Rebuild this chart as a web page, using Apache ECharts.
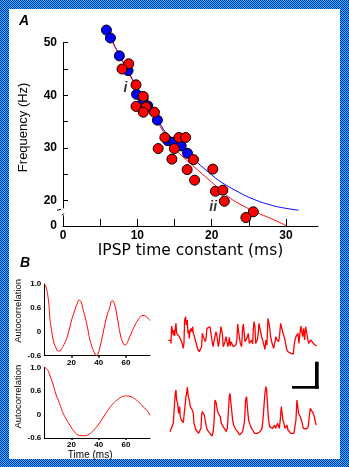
<!DOCTYPE html>
<html><head><meta charset="utf-8">
<script src="https://cdn.jsdelivr.net/npm/echarts@6/dist/echarts.min.js"></script>
<style>
html,body{margin:0;padding:0;background:#fff;}
#wrap{position:relative;width:349px;height:467px;background:repeating-conic-gradient(#00d4ff 0% 25%, #0010b0 0% 50%) 0 0/2px 2px;}
#paper{position:absolute;left:9px;top:9px;width:331px;height:450px;background:#fff;}
#chart{position:absolute;left:0;top:0;width:349px;height:467px;}
</style></head><body>
<div id="wrap"><div id="paper"></div><div id="chart"></div></div>
<script>
// ---------- Panel A data: frequency (Hz) vs IPSP time constant (ms) ----------
const blueT = [5.84, 6.38, 7.58, 8.75, 9.9, 10.76, 11.4, 12.7, 14.1, 14.9, 15.9, 16.75];
const blueF = [52.4, 50.9, 47.5, 44.7, 40.2, 39.3, 38.0, 35.3, 31.4, 31.1, 30.4, 29.0];
const redT = [8.84, 7.94, 9.82, 10.8, 9.82, 11.17, 10.8, 12.3, 13.7, 15.6, 16.5, 12.8, 14.97, 14.65, 17.55, 16.7, 20.15, 17.7, 20.5, 21.5, 21.7, 25.6, 24.6];
const redF = [46.0, 45.0, 42.0, 39.8, 37.9, 37.8, 36.8, 36.8, 32.0, 32.0, 32.0, 29.9, 29.9, 27.9, 27.8, 25.9, 26.0, 23.9, 21.8, 22.0, 19.9, 17.9, 16.8];
// fitted curves
const blueFitT = [5.8, 7, 8, 9, 10, 11, 12, 13, 14, 15, 16, 17, 18.5, 20, 21.1, 23.4, 25.6, 27.9, 29.8, 31.7];
const blueFitF = [52.4, 49.2, 46.6, 44.0, 41.4, 39.1, 36.8, 34.7, 32.6, 31.2, 29.9, 28.6, 26.7, 24.9, 23.7, 21.8, 20.3, 19.2, 18.6, 18.2];
const redFitT = [6.4, 7, 8, 9, 10, 11, 12, 13, 14, 15, 16, 18, 20, 22, 24, 26, 28, 30];
const redFitF = [51.0, 49.3, 46.5, 43.8, 41.2, 38.8, 36.5, 34.3, 32.0, 30.0, 28.5, 26.0, 23.5, 21.0, 19.2, 17.8, 16.6, 15.3];
const annoNames = ['i', 'ii'];
const annoT = [8.4, 20.2];
const annoF = [41.3, 18.8];
// axis ticks / labels for panel A
const timeTicks = [5, 10, 15, 20, 25, 30];
const timeLabels = [0, 10, 20, 30];
const freqTicks = [20, 25, 30, 35, 40, 45, 50];
const freqLabelPos = [15.2, 20, 30, 40, 50];   // bottom of broken axis is labelled 0
const freqLabelText = ['0', '20', '30', '40', '50'];
const freqBreakAt = 17.8;

// ---------- Panel B data ----------
// autocorrelation (lag ms, value)
const ac1T = [0, 1, 3, 4.2, 5.5, 6.6, 8.5, 10.3, 11.5, 12.8, 14.5, 16.4, 18.3, 20.1, 22, 24, 25.7, 27, 28.5, 29.9, 31.8, 33.6, 35.5, 37, 38.3, 39.5, 41, 42.5, 44, 45.9, 48, 50, 51, 52, 53.5, 55.7, 57.5, 59.3, 60.5, 61.8, 64, 66.7, 69, 71.6, 73.5, 75.3, 77.7];
const ac1V = [1.0, 0.97, 0.74, 0.3, 0.0, -0.21, -0.4, -0.48, -0.48, -0.42, -0.32, -0.17, 0.05, 0.3, 0.5, 0.66, 0.73, 0.7, 0.56, 0.38, 0.1, -0.21, -0.42, -0.53, -0.6, -0.55, -0.37, -0.15, 0.1, 0.38, 0.6, 0.72, 0.7, 0.63, 0.4, -0.04, -0.25, -0.33, -0.3, -0.21, -0.03, 0.17, 0.3, 0.4, 0.41, 0.37, 0.28];
const ac2T = [0, 1.5, 3, 5, 6.6, 8.5, 10.3, 12, 14, 16.5, 18.9, 21.5, 23.8, 27, 29.9, 33, 36, 39.5, 43.4, 47, 50.7, 54, 58.1, 60.5, 63, 65.5, 67.9, 70.5, 72.8, 75.5, 77.7];
const ac2V = [1.0, 0.98, 0.93, 0.8, 0.7, 0.52, 0.36, 0.2, 0.02, -0.14, -0.28, -0.41, -0.5, -0.54, -0.54, -0.5, -0.41, -0.27, -0.07, 0.12, 0.28, 0.38, 0.46, 0.47, 0.46, 0.42, 0.36, 0.28, 0.19, 0.1, -0.02];
const acLabelText = ['-0.6', '0', '0.6', '1.0'];   // evenly spaced on the drawn axis
const acLabelVal = [-0.6, 0, 0.6, 1.0];
const lagTicks = [20, 40, 60];

// voltage traces (time ms, amplitude)
const tr1T = [0,3,7,8,10,13,15,17,19,21,23,25,29,33,37,41,45,47,49,52,54,57,59,61,63,65,68,71,73,75,78,81,85,89,93,97,100,102,105,108,111,114,116,119,122,125,128,131,134,137,140,143,146,148,150,152,155,158,160,162,165,168,170,173,176,179,181,183,186,188,190,193,195,199,201,203,206,208,210,213,216,220,223,225,228,230,233,237,240,243,247,250,253,255,257,260,262,265,267,270,272,275,277,280,283,286,288,290,293,296,299,302,304,307,310,313,316,319,321,323,325,328,331,334,337,340,343,346,349,352,355,359,363,368,372,375,377,380,383,386,389,392,395,398,400,403,406,409,412,415,418,421,424,427,430,433,437,441,445];
const tr1V = [4.8,4.2,5.0,4.0,9.2,9.8,6.5,8.0,6.2,8.5,10.0,7.0,7.5,6.0,5.2,4.2,2.5,4.0,11.0,12.0,9.5,11.0,7.0,8.0,5.5,7.5,8.5,7.5,9.0,7.0,6.2,5.0,3.5,2.2,1.5,2.0,3.0,7.0,7.2,5.2,4.5,6.0,8.5,9.0,8.8,9.0,7.0,5.0,3.0,4.5,6.0,7.5,6.2,4.5,3.0,4.0,6.5,9.0,9.5,7.0,3.0,2.5,4.5,6.0,4.5,3.0,4.0,5.8,3.2,4.5,4.0,4.2,3.0,3.5,2.5,3.5,5.5,9.8,10.0,6.0,4.0,3.0,8.5,9.8,7.0,4.5,4.0,5.8,7.0,4.0,4.2,5.0,3.8,8.0,10.5,9.0,4.0,3.5,5.0,7.0,10.0,10.5,7.5,6.0,5.0,4.5,3.0,2.2,5.0,3.5,11.5,11.8,9.0,6.0,4.5,5.0,2.5,3.0,5.0,6.0,5.2,5.5,4.5,6.5,10.0,10.2,7.5,7.0,5.5,4.0,2.2,1.5,1.3,1.0,1.0,0.8,3.0,5.0,6.0,5.5,7.0,4.0,7.0,9.2,9.5,6.0,8.5,5.0,9.0,9.2,5.5,4.0,4.2,5.0,4.5,5.5,3.8,4.0,3.2];
const tr2T = [5,10,15,18,21,23,25,28,31,34,36,39,42,45,48,50,53,55,57,60,63,66,69,72,75,77,80,83,87,91,95,98,100,102,105,108,111,114,117,120,123,127,131,134,137,140,142,144,147,150,153,156,159,162,165,168,171,174,177,180,183,185,187,190,193,196,199,202,205,208,211,214,217,220,223,226,229,232,235,238,241,244,247,250,253,256,259,262,265,268,272,275,278,281,284,287,290,293,295,298,301,304,307,310,313,316,319,322,325,328,330,333,336,339,341,344,347,350,353,356,359,362,365,368,371,374,377,380,383,386,389,391,393,396,399,402,405,408,411,414,417,420,423,426,429,432,435,438,441,444];
const tr2V = [2.5,3.0,5.0,10.0,14.0,15.0,12.0,11.0,8.0,10.0,7.0,6.0,5.5,5.2,5.8,10.0,13.0,14.0,15.8,13.0,12.0,10.0,10.2,9.0,8.0,5.0,4.0,3.0,2.5,2.0,2.0,3.5,7.5,8.5,8.0,7.5,7.5,4.0,3.0,2.5,2.2,2.0,1.2,2.0,5.0,12.0,12.5,11.0,9.0,8.0,7.5,7.0,5.0,4.5,4.5,3.5,3.0,2.5,3.5,8.0,13.0,14.0,12.0,9.0,6.0,4.5,4.0,3.2,3.0,2.5,2.0,1.5,1.0,2.0,2.5,4.0,6.0,12.0,13.0,9.0,6.0,5.0,4.0,3.5,3.0,2.5,2.0,1.5,1.5,2.0,2.0,2.5,3.0,3.5,6.0,10.0,14.0,16.0,15.0,10.0,6.0,4.0,4.0,4.5,3.5,3.5,4.5,3.5,4.0,5.0,4.5,3.5,6.0,10.0,9.5,6.0,5.0,3.5,4.0,4.5,3.0,3.0,2.5,2.0,1.7,1.8,2.0,2.0,6.0,12.0,11.5,8.0,7.5,7.0,6.0,5.0,3.5,3.5,3.4,3.3,3.4,4.0,7.0,9.5,9.0,9.0,8.0,7.0,5.5,4.5];

// ---------- helpers ----------
const zip = (a, b) => a.map((v, i) => [v, b[i]]);
// drawn autocorrelation axis has evenly spaced labels -0.6, 0, 0.6, 1.0 (piecewise scale)
function acScale(v) {
  for (let i = 0; i < acLabelVal.length - 1; i++) {
    const a = acLabelVal[i], b = acLabelVal[i + 1];
    if (v <= b || i === acLabelVal.length - 2) return i + (v - a) / (b - a);
  }
}
const acData = (t, v) => t.map((x, i) => [x, acScale(v[i])]);

const SANS = "'Liberation Sans', Arial, sans-serif";
const BLACK = '#000';
const RED = '#ff0000';
const BLUE = '#0000ff';

const chart = echarts.init(document.getElementById('chart'), null, {renderer: 'canvas'});

const acYAxis = (grid, name, shift) => ({
  gridIndex: grid, type: 'value', min: 0, max: 3, interval: 1,
  axisLine: {show: true, lineStyle: {color: BLACK, width: 1}},
  axisTick: {show: false},
  splitLine: {show: false},
  axisLabel: {formatter: v => acLabelText[Math.round(v)], fontSize: 8, fontWeight: 'bold', color: BLACK, margin: 3, fontFamily: SANS},
  name: name, nameLocation: 'middle', nameRotate: 90, nameGap: 20,
  nameTextStyle: {fontSize: 9.5, color: BLACK, fontFamily: SANS, padding: [0, 0, 0, shift]}
});
const acXAxis = (grid, name) => ({
  gridIndex: grid, type: 'value', min: 0, max: 77.7,
  axisLine: {show: true, onZero: false, lineStyle: {color: BLACK, width: 1}},
  axisTick: {show: true, length: 2, customValues: lagTicks, lineStyle: {color: BLACK, width: 1.5}},
  splitLine: {show: false},
  axisLabel: {customValues: lagTicks, fontSize: 8, fontWeight: 'bold', color: BLACK, margin: 3, fontFamily: SANS},
  name: name, nameLocation: 'middle', nameGap: 9,
  nameTextStyle: {fontSize: 10, color: BLACK, fontFamily: SANS, padding: [0, 14, 0, 0]}
});

const option = {
  animation: false,
  backgroundColor: 'transparent',
  grid: [
    {left: 63, top: 42.7, width: 255, height: 183.3, outerBoundsMode: 'none'},
    {left: 44.3, top: 284, width: 105.7, height: 71.7, outerBoundsMode: 'none'},
    {left: 44.3, top: 367.3, width: 105.7, height: 70.7, outerBoundsMode: 'none'},
    {left: 168.3, top: 316.7, width: 148.3, height: 40, outerBoundsMode: 'none'},
    {left: 168.3, top: 380, width: 148.3, height: 60, outerBoundsMode: 'none'}
  ],
  xAxis: [
    {
      gridIndex: 0, type: 'value', min: 0, max: 34.3,
      axisLine: {show: true, onZero: false, lineStyle: {color: BLACK, width: 1}},
      axisTick: {show: true, inside: true, length: 7, customValues: timeTicks, lineStyle: {color: BLACK, width: 1}},
      axisLabel: {customValues: timeLabels, fontSize: 12, fontWeight: 'bold', color: BLACK, margin: 4, fontFamily: SANS},
      splitLine: {show: false},
      name: 'IPSP time constant (ms)', nameLocation: 'middle', nameGap: 17,
      nameTextStyle: {fontSize: 15.5, color: BLACK, fontFamily: "'DejaVu Sans', sans-serif"}
    },
    acXAxis(1, ''),
    acXAxis(2, 'Time (ms)'),
    {gridIndex: 3, type: 'value', min: 0, max: 445, show: false},
    {gridIndex: 4, type: 'value', min: 0, max: 445, show: false}
  ],
  yAxis: [
    {
      gridIndex: 0, type: 'value', min: 15.2, max: 50,
      axisLine: {show: true, onZero: false, lineStyle: {color: BLACK, width: 1}},
      axisTick: {show: true, inside: true, length: 5, customValues: freqTicks, lineStyle: {color: BLACK, width: 1}},
      axisLabel: {customValues: freqLabelPos, formatter: v => freqLabelText[freqLabelPos.indexOf(v)], fontSize: 12, fontWeight: 'bold', color: BLACK, margin: 6, fontFamily: SANS},
      splitLine: {show: false},
      name: 'Frequency (Hz)', nameLocation: 'middle', nameRotate: 90, nameGap: 33,
      nameTextStyle: {fontSize: 13, color: BLACK, fontFamily: "'Liberation Sans Narrow', 'Liberation Sans', sans-serif", padding: [0, 0, 0, 14]}
    },
    acYAxis(1, 'Autocorrelation', 18),
    acYAxis(2, 'Autocorrelation', 12),
    {gridIndex: 3, type: 'value', min: 0, max: 12, show: false},
    {gridIndex: 4, type: 'value', min: 0, max: 18, show: false}
  ],
  series: [
    {type: 'line', xAxisIndex: 0, yAxisIndex: 0, data: zip(blueFitT, blueFitF), smooth: true, showSymbol: false, clip: false,
     lineStyle: {color: BLUE, width: 1}, z: 2},
    {type: 'line', xAxisIndex: 0, yAxisIndex: 0, data: zip(redFitT, redFitF), smooth: true, showSymbol: false, clip: false,
     lineStyle: {color: RED, width: 1}, z: 2},
    {type: 'scatter', xAxisIndex: 0, yAxisIndex: 0, data: zip(blueT, blueF), symbolSize: 10, clip: false,
     itemStyle: {color: BLUE, borderColor: BLACK, borderWidth: 1, opacity: 1}, z: 3},
    {type: 'scatter', xAxisIndex: 0, yAxisIndex: 0, data: zip(redT, redF), symbolSize: 10, clip: false,
     itemStyle: {color: RED, borderColor: BLACK, borderWidth: 1, opacity: 1}, z: 4},
    {type: 'scatter', xAxisIndex: 0, yAxisIndex: 0, symbolSize: 0, clip: false,
     data: annoNames.map((n, i) => ({name: n, value: [annoT[i], annoF[i]]})),
     label: {show: true, position: 'inside', formatter: '{b}', fontSize: 14, fontStyle: 'italic', fontWeight: 'bold', color: BLACK, fontFamily: SANS}, z: 5},
    {type: 'line', xAxisIndex: 1, yAxisIndex: 1, data: acData(ac1T, ac1V), smooth: true, showSymbol: false, lineStyle: {color: RED, width: 1}},
    {type: 'line', xAxisIndex: 2, yAxisIndex: 2, data: acData(ac2T, ac2V), smooth: true, showSymbol: false, lineStyle: {color: RED, width: 1}},
    {type: 'line', xAxisIndex: 3, yAxisIndex: 3, data: zip(tr1T, tr1V), showSymbol: false, lineStyle: {color: RED, width: 1.3}},
    {type: 'line', xAxisIndex: 4, yAxisIndex: 4, data: zip(tr2T, tr2V), showSymbol: false, lineStyle: {color: RED, width: 1.3}}
  ],
  graphic: [
    {type: 'text', left: 19, top: 14, style: {text: 'A', font: "italic bold 14px 'Liberation Sans', sans-serif", fill: BLACK}},
    {type: 'text', left: 20, top: 256, style: {text: 'B', font: "italic bold 14px 'Liberation Sans', sans-serif", fill: BLACK}},
    // scale bar
    {type: 'rect', shape: {x: 315, y: 361.7, width: 3.7, height: 27}, style: {fill: BLACK}},
    {type: 'rect', shape: {x: 292, y: 386, width: 26.7, height: 2.7}, style: {fill: BLACK}}
  ]
};
chart.setOption(option);

// axis-break marks on the frequency axis
const bp = chart.convertToPixel({gridIndex: 0}, [0, freqBreakAt]);
const g = option.graphic.slice();
g.push({type: 'rect', shape: {x: bp[0] - 2, y: bp[1] - 4, width: 4, height: 7}, style: {fill: '#fff'}, z: 50});
g.push({type: 'line', shape: {x1: bp[0] - 6, y1: bp[1] - 2, x2: bp[0] - 2, y2: bp[1] - 3}, style: {stroke: BLACK, lineWidth: 1}, z: 51});
g.push({type: 'line', shape: {x1: bp[0] - 1, y1: bp[1] + 3, x2: bp[0] + 1, y2: bp[1] + 1}, style: {stroke: BLACK, lineWidth: 1}, z: 51});
chart.setOption({graphic: g});
</script>
</body></html>
